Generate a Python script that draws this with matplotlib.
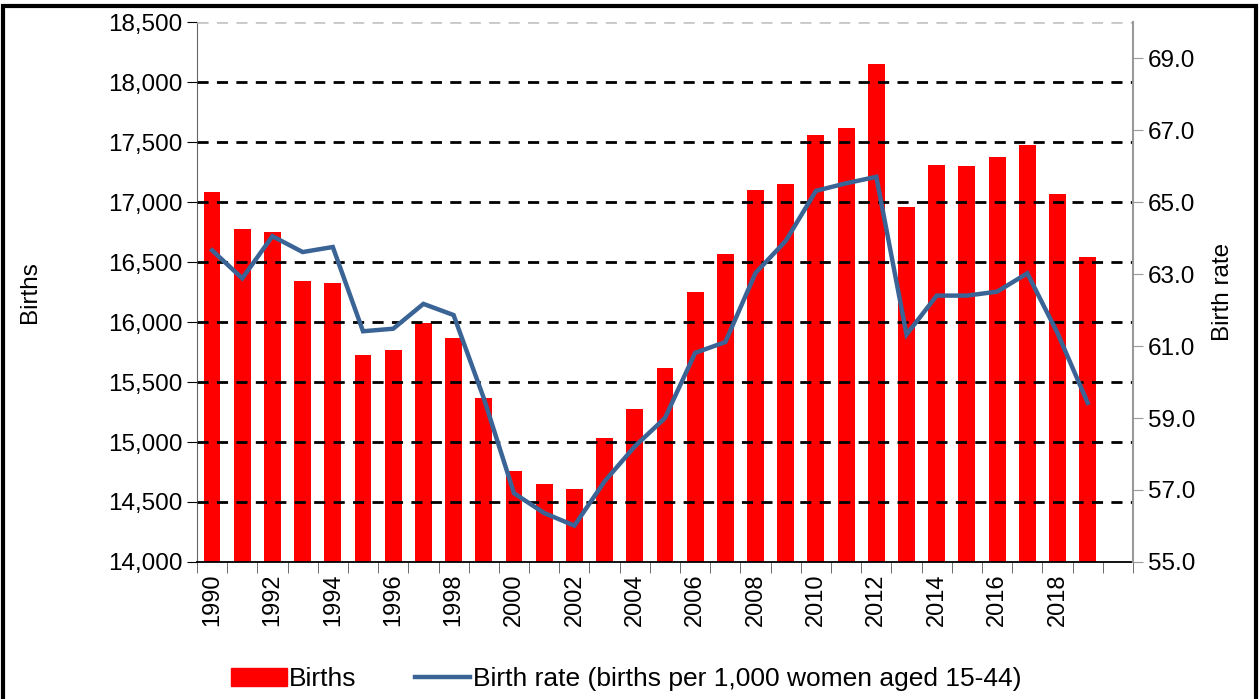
import matplotlib
matplotlib.use("Agg")
import matplotlib.pyplot as plt
from matplotlib.patches import Rectangle

plt.rcParams['font.family'] = ['Liberation Sans', 'DejaVu Sans']

years = list(range(1990, 2020))
births = [17080, 16775, 16753, 16339, 16328, 15722, 15769, 15992, 15869, 15367,
          14756, 14647, 14608, 15036, 15275, 15620, 16247, 16567, 17097, 17147,
          17561, 17614, 18150, 16958, 17308, 17303, 17378, 17472, 17067, 16542]
birth_rate = [63.66, 62.88, 64.05, 63.61, 63.75, 61.41, 61.48, 62.17, 61.86, 59.55,
              56.91, 56.36, 56.01, 57.24, 58.21, 59.0, 60.81, 61.11, 63.03, 63.92,
              65.31, 65.52, 65.70, 61.32, 62.40, 62.40, 62.51, 63.02, 61.36, 59.42]
left_ticks = list(range(14000, 18501, 500))
right_ticks = [55, 57, 59, 61, 63, 65, 67, 69]

fig = plt.figure(figsize=(12.6, 6.99), dpi=100)
ax = fig.add_axes([0.1563, 0.196, 0.7429, 0.7725])
x = list(range(len(years)))

ax.bar(x, [b - 14000 for b in births], bottom=14000, width=0.56, color='#ff0000', zorder=2)
ax.set_ylim(14000, 18500)
ax.set_xlim(-0.5, len(years) + 0.5)
ax.set_yticks(left_ticks)
ax.set_yticklabels([f'{v:,}' for v in left_ticks])
ax.tick_params(axis='y', labelsize=17.5, length=7, direction='out', color='black')

# dashed gridlines over the bars
for v in left_ticks[1:]:
    col = '#c8c8c8' if v == left_ticks[-1] else 'black'
    ax.axhline(v, color=col, linestyle=(0, (4, 3)), lw=2, zorder=3)

ax.set_xticks(x[::2])
ax.set_xticklabels([str(y) for y in years[::2]], rotation=90)
ax.set_xticks([i - 0.5 for i in range(len(years) + 2)], minor=True)
ax.tick_params(axis='x', which='major', length=0, labelsize=17, pad=8)
ax.tick_params(axis='x', which='minor', length=8, color='#555555')

ax.spines['top'].set_visible(False)
ax.spines['left'].set_color('#666666')
ax.spines['right'].set_visible(False)
ax.spines['bottom'].set_color('black')
ax.spines['bottom'].set_linewidth(1.3)
ax.set_ylabel('Births', fontsize=17.5, labelpad=48)

ax2 = ax.twinx()
line, = ax2.plot(x, birth_rate, color='#3a6496', lw=3.2, zorder=4,
                 solid_joinstyle='miter')
ax2.set_ylim(55, 70)
ax2.set_yticks(right_ticks)
ax2.set_yticklabels([f'{v:.1f}' for v in right_ticks])
ax2.tick_params(axis='y', labelsize=17.5, length=7, color='#999999')
ax2.spines['top'].set_visible(False)
ax2.spines['left'].set_visible(False)
ax2.spines['bottom'].set_visible(False)
ax2.spines['right'].set_color('#999999')
ax2.spines['right'].set_linewidth(1.5)
ax2.set_ylabel('Birth rate', fontsize=17.5, labelpad=12)

bar_handle = Rectangle((0, 0), 1, 1, color='#ff0000')
fig.legend([bar_handle, line], ['Births', 'Birth rate (births per 1,000 women aged 15-44)'],
           loc='center', bbox_to_anchor=(0.497, 0.028), ncol=2, frameon=False,
           fontsize=19, handlelength=2.1, handletextpad=0.1, columnspacing=2.2)

fig.patches.append(Rectangle((0.002, -0.01), 0.995, 1.002, transform=fig.transFigure,
                             fill=False, edgecolor='black', lw=3))

fig.savefig('out.png', dpi=100)
